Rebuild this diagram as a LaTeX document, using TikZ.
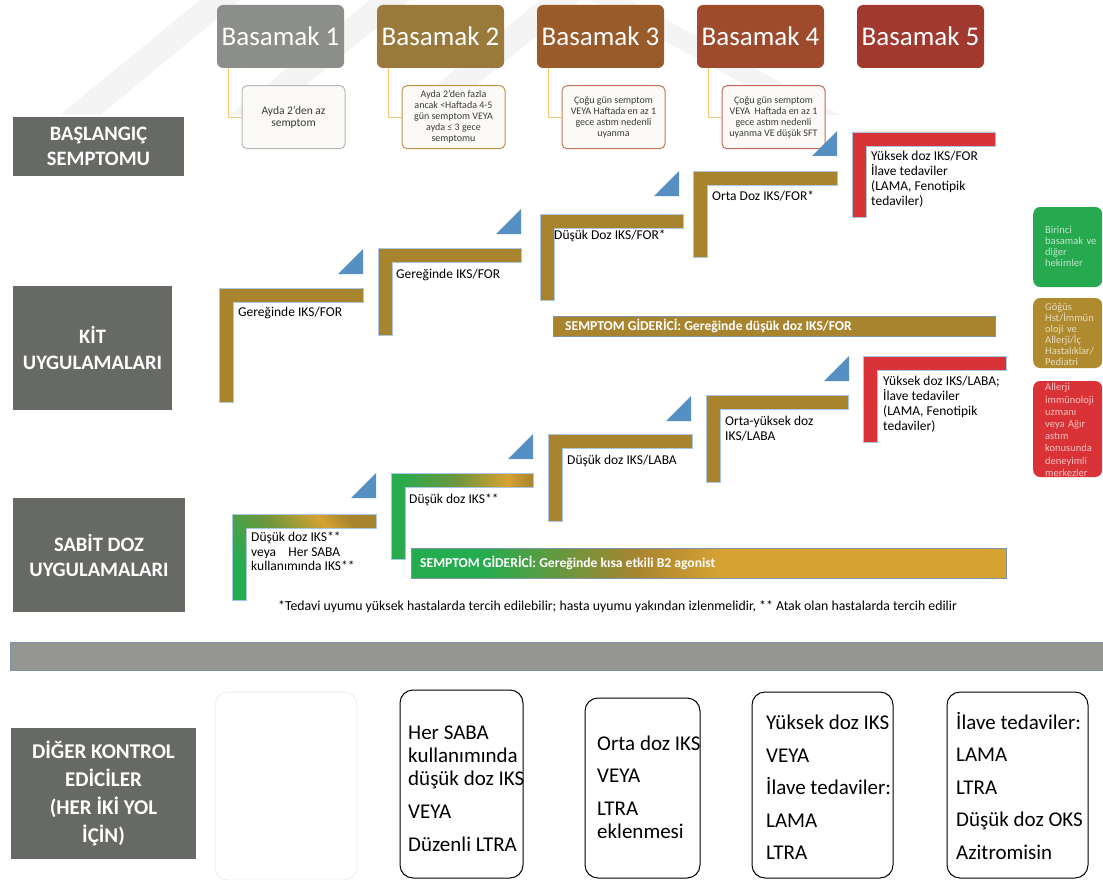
\documentclass[tikz,border=0pt]{standalone}
\usepackage{fontspec}
\setmainfont{Carlito}
\usetikzlibrary{positioning}

\definecolor{bascol1}{HTML}{8C8E8A}
\definecolor{bascol2}{HTML}{9A7A3C}
\definecolor{bascol3}{HTML}{9A5B2B}
\definecolor{bascol4}{HTML}{9E4B2D}
\definecolor{bascol5}{HTML}{A2392E}
\definecolor{symline1}{HTML}{B8B8B8}
\definecolor{symline2}{HTML}{C39248}
\definecolor{symline3}{HTML}{C47A5A}
\definecolor{symline4}{HTML}{C0685A}
\definecolor{symfill}{HTML}{FBFAF7}
\definecolor{symtext}{HTML}{3A3A3A}
\definecolor{connorange}{HTML}{F6C771}
\definecolor{labelgray}{HTML}{676965}
\definecolor{stepgold}{HTML}{A9842F}
\definecolor{stepred}{HTML}{D93237}
\definecolor{triblue}{HTML}{5690C3}
\definecolor{lineblue}{HTML}{A9C6E2}
\definecolor{sgreen}{HTML}{25AC4F}
\definecolor{sgold}{HTML}{D6A232}
\definecolor{leggreen}{HTML}{27A950}
\definecolor{leggold}{HTML}{AF8A2F}
\definecolor{legred}{HTML}{D93237}
\definecolor{sepgray}{HTML}{959692}
\definecolor{sepline}{HTML}{7F93A8}
\definecolor{markgray}{HTML}{F4F4F4}

\pgfdeclarehorizontalshading{reliefshade}{100bp}{color(0bp)=(sgreen); color(31bp)=(sgreen); color(44bp)=(stepgold); color(51bp)=(sgold); color(100bp)=(sgold)}
\pgfdeclarehorizontalshading{stairshade}{100bp}{color(0bp)=(sgreen); color(27bp)=(sgreen); color(48bp)=(sgreen!45!stepgold); color(66bp)=(sgold); color(75bp)=(stepgold); color(100bp)=(stepgold)}

\begin{document}
\begin{tikzpicture}
[x=1pt,y=-1pt,
  stepbox/.style={shape=rectangle,rounded corners=6pt,minimum width=127pt,minimum height=63pt,text=white,font=\fontsize{27}{30}\selectfont},%
  symbox/.style={shape=rectangle,rounded corners=5pt,draw=#1,line width=1pt,fill=symfill,minimum width=103pt,minimum height=63pt,align=center,text=symtext,inner sep=1pt,font=\fontsize{10}{11}\selectfont},%
  connline/.style={-,connorange,line width=1pt},%
  leftlabel/.style={shape=rectangle,fill=labelgray,text=white,align=center,inner sep=0pt,font=\bfseries\fontsize{20.5}{25}\selectfont},%
  stairbar/.style={draw=lineblue,line width=0.6pt},%
  steplabel/.style={anchor=west,inner sep=0pt,font=\fontsize{13.5}{15}\selectfont},%
  multilabel/.style={anchor=north west,inner sep=0pt,align=left,font=\fontsize{13.5}{15.2}\selectfont},%
  reliefbar/.style={shape=rectangle,draw=sepline,line width=0.6pt,anchor=west,inner sep=0pt},%
  relieftext/.style={anchor=west,inner sep=0pt,text=white,font=\bfseries\fontsize{13.6}{15}\selectfont},%
  legbox/.style={shape=rectangle,rounded corners=7pt,anchor=west,minimum width=69pt},%
  legtext/.style={anchor=west,inner sep=0pt,text width=60pt,align=left,font=\fontsize{10.5}{11}\selectfont},%
  botbox/.style={shape=rectangle,rounded corners=13pt,draw=black,line width=1pt},%
  bottext/.style={anchor=north west,inner sep=0pt,align=left,font=\fontsize{21}{23}\selectfont}]
\useasboundingbox (0,0) rectangle (1103,880);
\fill[white] (0,0) rectangle (1103,880);

%% faint watermark bands
\foreach \x in {200,370,540} {
  \fill[markgray] (\x,0) -- ++(40,0) -- ++(-140,115) -- ++(-40,0) -- cycle;
}
\fill[markgray] (590,0) -- ++(40,0) -- ++(210,115) -- ++(-40,0) -- cycle;

%% step headers
\foreach \n/\x in {1/280.5, 2/440.5, 3/600.5, 4/760.5, 5/920.5} {
  \node (bas\n) at (\x,36.5) [stepbox,fill=bascol\n] {Basamak \n};
}

%% starting symptoms
\node (sym1) [symbox=symline1,below=17pt of bas1,xshift=13pt,font=\fontsize{11.5}{12.5}\selectfont] {Ayda 2’den az\\semptom};
\node (sym2) [symbox=symline2,below=17pt of bas2,xshift=13pt] {Ayda 2’den fazla\\ancak <Haftada 4-5\\gün semptom VEYA\\ayda ≤ 3 gece\\semptomu};
\node (sym3) [symbox=symline3,below=17pt of bas3,xshift=13pt] {Çoğu gün semptom\\VEYA Haftada en az 1\\gece astım nedenli\\uyanma};
\node (sym4) [symbox=symline4,below=17pt of bas4,xshift=13pt] {Çoğu gün semptom\\VEYA\ \ Haftada en az 1\\gece astım nedenli\\uyanma VE düşük SFT};
\foreach \n in {1,...,4} {
  \draw[connline] ([xshift=12pt]bas\n.south west) |- (sym\n.west);
}

%% row titles
\node (start) at (98.5,146.5) [leftlabel,minimum width=171pt,minimum height=59pt] {BAŞLANGIÇ\\SEMPTOMU};
\node (kit) at (92.5,348) [leftlabel,minimum width=159pt,minimum height=124pt] {KİT\\UYGULAMALARI};
\node (fixed) at (99,555) [leftlabel,minimum width=172pt,minimum height=114pt] {SABİT DOZ\\UYGULAMALARI};
\node (other) at (103.5,793.5) [leftlabel,minimum width=185pt,minimum height=131pt,font=\bfseries\fontsize{21}{28}\selectfont] {DİĞER KONTROL\\EDİCİLER\\(HER İKİ YOL\\İÇİN)};

%% stairs: x/y/width/height/colour
\foreach \x/\y/\w/\h/\c in {219/288/144/114/stepgold, 378/248/143/87/stepgold, 540/214/143/86/stepgold, 693/171/144/86/stepgold, 852/132/143/85/stepred,
                            548/434/144/87/stepgold, 706/395/142/87/stepgold, 863/356/143/86/stepred} {
  \filldraw[stairbar,fill=\c] (\x,\y) -- ++(\w,0) -- ++(0,14) -- ++({14-\w},0) -- ++(0,{\h-14}) -- ++(-14,0) -- cycle;
}
\foreach \x/\y/\w/\h/\a in {232/514/144/86/40, 391/473/142/86/0} {
  \shadedraw[stairbar,shading=stairshade,shading angle=\a] (\x,\y) -- ++(\w,0) -- ++(0,14) -- ++({14-\w},0) -- ++(0,{\h-14}) -- ++(-14,0) -- cycle;
}
%% step arrows
\foreach \x/\y in {363/274, 521/234, 679/196, 837/156, 376/498, 533/459, 691/421, 849/381} {
  \fill[triblue] (\x,\y) -- ++(-25,0) -- ++(25,-25) -- cycle;
}

%% stair texts
\node (kit1) at (238,313) [steplabel] {Gereğinde IKS/FOR};
\node (kit2) at (396,275) [steplabel] {Gereğinde IKS/FOR};
\node (kit3) at (554,236) [steplabel] {Düşük Doz IKS/FOR*};
\node (kit4) at (712,196) [steplabel] {Orta Doz IKS/FOR*};
\node (kit5) at (871,150.5) [multilabel] {Yüksek doz IKS/FOR\\İlave tedaviler\\(LAMA, Fenotipik\\tedaviler)};
\node (fix1) at (251,532) [multilabel,font=\fontsize{13.5}{14.5}\selectfont] {Düşük doz IKS**\\veya\ \ \ \ Her SABA\\kullanımında IKS**};
\node (fix2) at (409,500) [steplabel] {Düşük doz IKS**};
\node (fix3) at (567,461) [steplabel] {Düşük doz IKS/LABA};
\node (fix4) at (725,416) [multilabel] {Orta-yüksek doz\\IKS/LABA};
\node (fix5) at (883,375.5) [multilabel] {Yüksek doz IKS/LABA;\\İlave tedaviler\\(LAMA, Fenotipik\\tedaviler)};

%% relievers
\node (relief1) at (553,326) [reliefbar,fill=stepgold,minimum width=442pt,minimum height=20pt] {};
\node (relief1t) at (565,326) [relieftext] {SEMPTOM GİDERİCİ: Gereğinde düşük doz IKS/FOR};
\node (relief2) at (411,563) [reliefbar,shading=reliefshade,minimum width=595pt,minimum height=30pt] {};
\node (relief2t) at (420,563) [relieftext] {SEMPTOM GİDERİCİ: Gereğinde kısa etkili B2 agonist};

%% footnote
\node (note) at (278,607) [anchor=west,inner sep=0pt,font=\fontsize{13.8}{15}\selectfont] {*Tedavi uyumu yüksek hastalarda tercih edilebilir; hasta uyumu yakından izlenmelidir, ** Atak olan hastalarda tercih edilir};

%% legend
\node (leg1) at (1033,247) [legbox,fill=leggreen,minimum height=80pt] {};
\node (leg2) at (1033,333) [legbox,fill=leggold,minimum height=70pt] {};
\node (leg3) at (1033,429) [legbox,fill=legred,minimum height=96pt] {};
\node (leg1t) at (1045,246.5) [legtext,text=white!70!leggreen] {Birinci\\basamak ve\\diğer\\hekimler};
\node (leg2t) at (1045,334.5) [legtext,text=white!70!leggold] {Göğüs\\Hst/İmmün\\oloji ve\\Allerji/İç\\Hastalıklar/\\Pediatri};
\node (leg3t) at (1045,430) [legtext,text=white!70!legred,font=\fontsize{10.5}{12.2}\selectfont] {Allerji\\immünoloji\\uzmanı\\veya Ağır\\astım\\konusunda\\deneyimli\\merkezler};

%% separator
\node (sep) at (10,656) [reliefbar,fill=sepgray,draw=sepline,line width=1pt,minimum width=1110pt,minimum height=28pt] {};

%% other controllers
\node (bot0) at (286,786) [botbox,draw=black!6,minimum width=142pt,minimum height=188pt] {};
\node (botA) at (461.5,784) [botbox,minimum width=123pt,minimum height=188pt] {};
\node (botB) at (642.5,788) [botbox,minimum width=115pt,minimum height=180pt] {};
\node (botC) at (822.5,785) [botbox,minimum width=141pt,minimum height=186pt] {};
\node (botD) at (1017.5,785) [botbox,minimum width=141pt,minimum height=186pt] {};
\node (txtA) at (408,726) [bottext] {Her SABA\\kullanımında\\düşük doz IKS\\[10pt]VEYA\\[10pt]Düzenli LTRA};
\node (txtB) at (597,736) [bottext] {Orta doz IKS\\[9pt]VEYA\\[10pt]LTRA\\eklenmesi};
\node (txtC) at (766,715) [bottext] {Yüksek doz IKS\\[9.5pt]VEYA\\[9.5pt]İlave tedaviler:\\[9.5pt]LAMA\\[9.5pt]LTRA};
\node (txtD) at (956,712) [bottext] {İlave tedaviler:\\[9.5pt]LAMA\\[9.5pt]LTRA\\[9.5pt]Düşük doz OKS\\[9.5pt]Azitromisin};
\end{tikzpicture}
\end{document}
